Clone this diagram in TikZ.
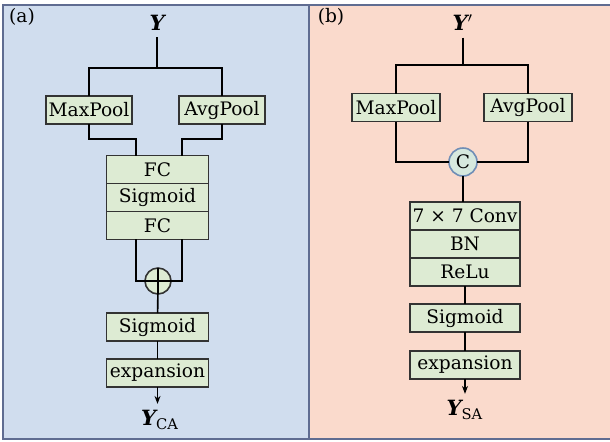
\documentclass[tikz,border=0pt]{standalone}
\usepackage{fontspec}
\setmainfont{DejaVu Serif}
\usetikzlibrary{positioning}
\usetikzlibrary{arrows.meta}

\definecolor{paneA}{RGB}{208,221,238}
\definecolor{paneB}{RGB}{250,218,204}
\definecolor{paneLine}{RGB}{95,108,145}
\definecolor{boxFill}{RGB}{221,235,211}
\definecolor{catFill}{RGB}{214,232,222}
\definecolor{catLine}{RGB}{112,142,182}

\newcommand{\tensor}[1]{{\bfseries\itshape #1}}

\begin{document}
\begin{tikzpicture}[
    x=0.5pt, y=-0.5pt,
    line width=0.8pt,
    every node/.style={font=\fontsize{9.3}{11}\selectfont, outer sep=0pt},
    box/.style={draw=black!80, fill=boxFill, inner sep=0pt, minimum height=14pt},
    narrow/.style={box, minimum width=43pt},
    wide/.style={box, minimum width=51pt},
    wider/.style={box, minimum width=55pt},
    sum/.style={draw=black!80, fill=boxFill, circle, inner sep=0pt, minimum size=13pt},
    cat/.style={draw=catLine, fill=catFill, circle, inner sep=0pt, minimum size=14pt},
    var/.style={font=\fontsize{10.5}{12}\selectfont},
    ]
    \useasboundingbox (0,0) rectangle (610,441);
    % the two panels
    \fill[paneA] (3,5) rectangle (309,439);
    \fill[paneB] (309,5) rectangle (610,439);
    \draw[paneLine, line width=1pt] (610,5) -- (3,5) -- (3,439) -- (610,439);
    \draw[paneLine, line width=1pt] (309,5) -- (309,439);
    \node (tagA) at (22,17) {(a)};
    \node (tagB) at (331,17) {(b)};

    % (a) channel branch
    \node[var] (inA) at (157,23) {\tensor{Y}};
    \coordinate (splitA) at (157,68);
    \node[narrow] (maxA) at (89,110) {MaxPool};
    \node[narrow] (avgA) at (222,110) {AvgPool};
    \node[wide] (fcA) at (157.5,169.5) {FC};
    \node[wide, below=0pt of fcA] (sigA) {Sigmoid};
    \node[wide, below=0pt of sigA] (fcB) {FC};
    \node[sum] (plusA) at (158,281) {};
    \node[wide] (actA) at (157.5,327) {Sigmoid};
    \node[wide] (expA) at (157.5,373) {expansion};
    \node[var] (outA) at (160,420) {\tensor{Y}\textsubscript{CA}};

    \draw (inA) -- (splitA);
    \draw (maxA.north) |- (splitA) -| (avgA.north);
    \draw (maxA.south) |- (136,139) -- (136,156);
    \draw (avgA.south) |- (182,139) -- (182,156);
    \draw (136,239) |- (plusA.west);
    \draw (182,239) |- (plusA.east);
    \draw (plusA.north) -- (plusA.south) (plusA.west) -- (plusA.east);
    \draw (plusA) -- (actA);
    \draw (actA) -- (expA);
    \draw[-{Stealth[length=4pt,width=3pt]}] (expA) -- (outA.north -| expA);

    % (b) spatial branch
    \node[var] (inB) at (463,23) {\tensor{Y}$'$};
    \coordinate (splitB) at (463,65);
    \node[narrow, minimum width=44pt] (maxB) at (396,107.5) {MaxPool};
    \node[narrow, minimum width=44pt] (avgB) at (528,107.5) {AvgPool};
    \node[cat] (catB) at (463,162) {C};
    \node[wider] (convB) at (465,216) {7 × 7 Conv};
    \node[wider, below=0pt of convB] (bnB) {BN};
    \node[wider, below=0pt of bnB] (reluB) {ReLu};
    \node[wider] (actB) at (465,318) {Sigmoid};
    \node[wider] (expB) at (465,365) {expansion};
    \node[var] (outB) at (465,410) {\tensor{Y}\textsubscript{SA}};

    \draw (inB) -- (splitB);
    \draw (maxB.north) |- (splitB) -| (avgB.north);
    \draw (maxB.south) |- (catB.west);
    \draw (avgB.south) |- (catB.east);
    \draw (catB) -- (catB |- convB.north);
    \draw (reluB) -- (actB);
    \draw (actB) -- (expB);
    \draw[-{Stealth[length=4pt,width=3pt]}] (expB) -- (outB.north -| expB);
\end{tikzpicture}
\end{document}
